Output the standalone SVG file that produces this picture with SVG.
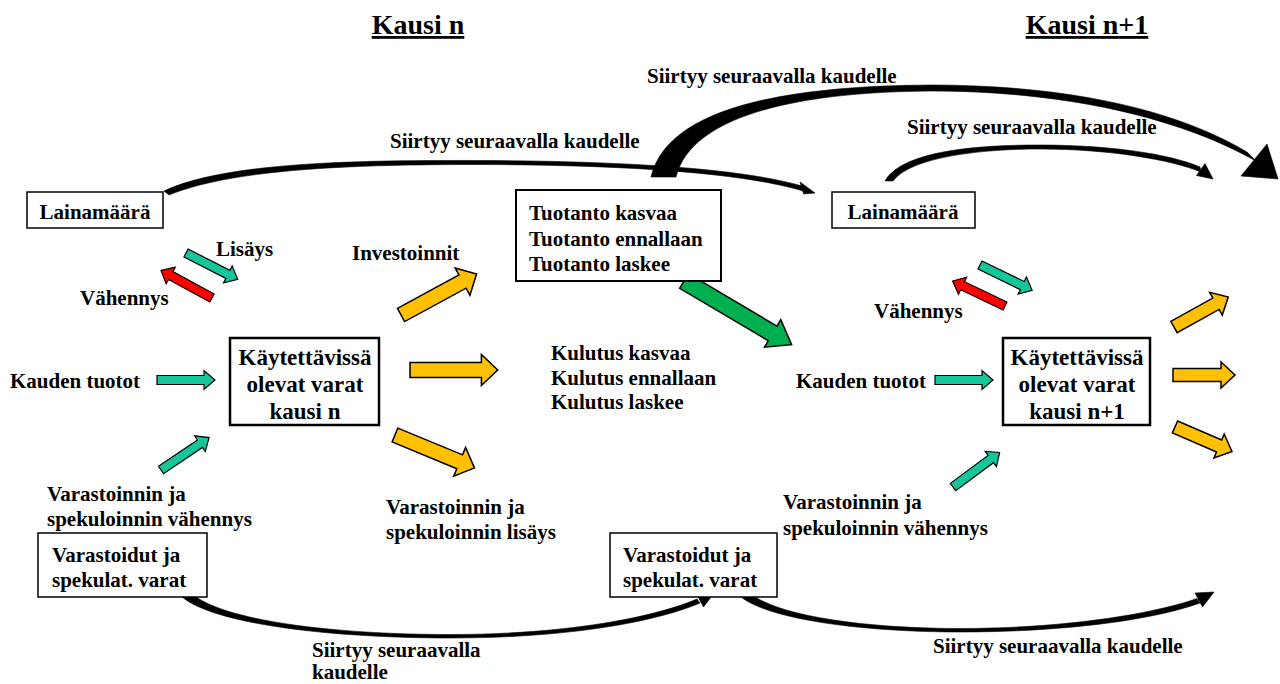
<svg xmlns="http://www.w3.org/2000/svg" xmlns:xlink="http://www.w3.org/1999/xlink" width="1280" height="684" viewBox="0 0 1280 684">
  <style>
    text { font-family: "Liberation Serif", "Times New Roman", serif; font-weight: bold; fill: #000; }
    .t21 { font-size: 21px; }
    .t23 { font-size: 23px; }
    .title { font-size: 28px; text-decoration: underline; }
    .box { fill: #fff; stroke: #000; }
    .teal { fill: #14C79B; stroke: #000; stroke-width: 1.2; }
    .red { fill: #FF0000; stroke: #000; stroke-width: 1.2; }
    .orange { fill: #FFC000; stroke: #000; stroke-width: 1.5; }
    .green { fill: #00B050; stroke: #000; stroke-width: 1.5; }
    .curve { fill: #000; stroke: #000; stroke-width: 0.6; stroke-linejoin: round; }
  </style>
  <defs>
    <!-- block arrow shapes, tail at origin, pointing along +x -->
    <polygon id="arrSmall" points="0,-4.5 47,-4.5 47,-9.5 58,0 47,9.5 47,4.5 0,4.5"/>
    <polygon id="arrMid" points="0,-7.5 70,-7.5 70,-15.5 86,0 70,15.5 70,7.5 0,7.5"/>
    <polygon id="arrMidS" points="0,-6.5 48,-6.5 48,-13 62,0 48,13 48,6.5 0,6.5"/>
    <polygon id="arrBig" points="0,-8.5 103,-8.5 103,-16 125,0 103,16 103,8.5 0,8.5"/>
  </defs>

  <rect width="1280" height="684" fill="#fff"/>

  <!-- period titles -->
  <g id="title-n"><text class="title" x="418" y="34" text-anchor="middle">Kausi n</text></g>
  <g id="title-n1"><text class="title" x="1087" y="34" text-anchor="middle">Kausi n+1</text></g>

  <g id="connectors">
    <!-- tapered carry-over arcs -->
    <path class="curve" d="M164,191 C225,162 360,160 480,160.5 C620,161 740,168 802,186 L803,191 C740,172 620,165 480,164.5 C360,164.5 235,168 169,195 Z"/>
    <polygon class="curve" points="815,193 800,182 803.7,194"/>

    <path class="curve" d="M651,177 C668,106 790,86 930,85 C1075,85 1180,112 1247,152 L1256,161 C1185,121 1075,91 930,91 C805,92 692,113 676,177 Z"/>
    <polygon class="curve" points="1278,179 1241,176 1267,144"/>

    <path class="curve" d="M885,181 C903,150 980,145 1040,145 C1110,145 1170,154 1200,167 L1201,172 C1172,160 1110,149 1040,149 C985,149 912,156 893,181 Z"/>
    <polygon class="curve" points="1213,179 1196.5,175.5 1205,163.5"/>

    <path class="curve" d="M181,596 C212,624 330,638 450,638 C560,638 650,624 700,603 L697,599 C650,619 560,634.5 450,634.5 C335,634.5 222,621 191,593 Z"/>
    <polygon class="curve" points="715,592 703.5,607 696,593"/>

    <path class="curve" d="M741,597 C772,621 870,632 960,632 C1060,632 1150,621 1200,603 L1197,598.5 C1150,615 1060,628.5 960,628.5 C875,628.5 782,618 751,594 Z"/>
    <polygon class="curve" points="1214,592 1202.5,607 1195,593"/>

    <!-- loan changes, left -->
    <use href="#arrSmall" class="teal" transform="translate(186,253) rotate(27)"/>
    <use href="#arrSmall" class="red" transform="translate(212,298) rotate(208.5)"/>
    <!-- income and reduced storage, left -->
    <use href="#arrSmall" class="teal" transform="translate(157,380)"/>
    <use href="#arrSmall" class="teal" transform="translate(161,470) rotate(-34)"/>
    <!-- uses of funds, left -->
    <use href="#arrMid" class="orange" transform="translate(401,315) rotate(-28.5)"/>
    <use href="#arrMid" class="orange" transform="translate(410,370) scale(1.02,1)"/>
    <use href="#arrMid" class="orange" transform="translate(395,435) rotate(22.5)"/>
    <!-- production into next period -->
    <use href="#arrBig" class="green" transform="translate(684,281) rotate(30.6)"/>
    <!-- loan changes, right -->
    <use href="#arrSmall" class="teal" transform="translate(980,265) rotate(26)"/>
    <use href="#arrSmall" class="red" transform="translate(1005,306) rotate(205.5)"/>
    <!-- income and reduced storage, right -->
    <use href="#arrSmall" class="teal" transform="translate(935,380)"/>
    <use href="#arrSmall" class="teal" transform="translate(953,487) rotate(-36.5)"/>
    <!-- uses of funds, right -->
    <use href="#arrMidS" class="orange" transform="translate(1174,327) rotate(-29)"/>
    <use href="#arrMidS" class="orange" transform="translate(1173,375)"/>
    <use href="#arrMidS" class="orange" transform="translate(1175,427) rotate(23.3)"/>
  </g>

  <!-- period n -->
  <g id="laina-n">
    <rect class="box" x="27" y="192" width="136" height="36" stroke-width="1.5"/>
    <text class="t21" x="95" y="219" text-anchor="middle">Lainamäärä</text>
  </g>
  <g id="varat-n">
    <rect class="box" x="230" y="338" width="149" height="87" stroke-width="2.5"/>
    <text class="t23" x="305" y="365" text-anchor="middle">Käytettävissä</text>
    <text class="t23" x="305" y="392" text-anchor="middle">olevat varat</text>
    <text class="t23" x="305" y="419" text-anchor="middle">kausi n</text>
  </g>
  <g id="tuotanto">
    <rect class="box" x="516" y="190" width="205" height="91" stroke-width="2"/>
    <text class="t21" x="529" y="220">Tuotanto kasvaa</text>
    <text class="t21" x="529" y="246">Tuotanto ennallaan</text>
    <text class="t21" x="529" y="271">Tuotanto laskee</text>
  </g>
  <g id="varasto-n">
    <rect class="box" x="38" y="533" width="169" height="64" stroke-width="1.5"/>
    <text class="t21" x="52" y="562">Varastoidut ja</text>
    <text class="t21" x="52" y="587">spekulat. varat</text>
  </g>

  <!-- period n+1 -->
  <g id="laina-n1">
    <rect class="box" x="832" y="192" width="143" height="36" stroke-width="1.5"/>
    <text class="t21" x="903" y="219" text-anchor="middle">Lainamäärä</text>
  </g>
  <g id="varat-n1">
    <rect class="box" x="1003" y="338" width="147" height="87" stroke-width="2.5"/>
    <text class="t23" x="1077" y="365" text-anchor="middle">Käytettävissä</text>
    <text class="t23" x="1077" y="392" text-anchor="middle">olevat varat</text>
    <text class="t23" x="1077" y="419" text-anchor="middle">kausi n+1</text>
  </g>
  <g id="varasto-n1">
    <rect class="box" x="610" y="533" width="167" height="64" stroke-width="1.5"/>
    <text class="t21" x="623" y="562">Varastoidut ja</text>
    <text class="t21" x="623" y="587">spekulat. varat</text>
  </g>

  <!-- labels -->
  <g id="labels">
    <text class="t21" x="647" y="83">Siirtyy seuraavalla kaudelle</text>
    <text class="t21" x="390" y="148">Siirtyy seuraavalla kaudelle</text>
    <text class="t21" x="907" y="134">Siirtyy seuraavalla kaudelle</text>
    <text class="t21" x="216" y="256">Lisäys</text>
    <text class="t21" x="80" y="305">Vähennys</text>
    <text class="t21" x="352" y="260">Investoinnit</text>
    <text class="t21" x="10" y="388">Kauden tuotot</text>
    <text class="t21" x="551" y="360">Kulutus kasvaa</text>
    <text class="t21" x="551" y="385">Kulutus ennallaan</text>
    <text class="t21" x="551" y="409">Kulutus laskee</text>
    <text class="t21" x="47" y="501">Varastoinnin ja</text>
    <text class="t21" x="47" y="526">spekuloinnin vähennys</text>
    <text class="t21" x="386" y="514">Varastoinnin ja</text>
    <text class="t21" x="386" y="539">spekuloinnin lisäys</text>
    <text class="t21" x="874" y="318">Vähennys</text>
    <text class="t21" x="796" y="388">Kauden tuotot</text>
    <text class="t21" x="783" y="509">Varastoinnin ja</text>
    <text class="t21" x="783" y="535">spekuloinnin vähennys</text>
    <text class="t21" x="312" y="657">Siirtyy seuraavalla</text>
    <text class="t21" x="312" y="679">kaudelle</text>
    <text class="t21" x="933" y="653">Siirtyy seuraavalla kaudelle</text>
  </g>
</svg>
